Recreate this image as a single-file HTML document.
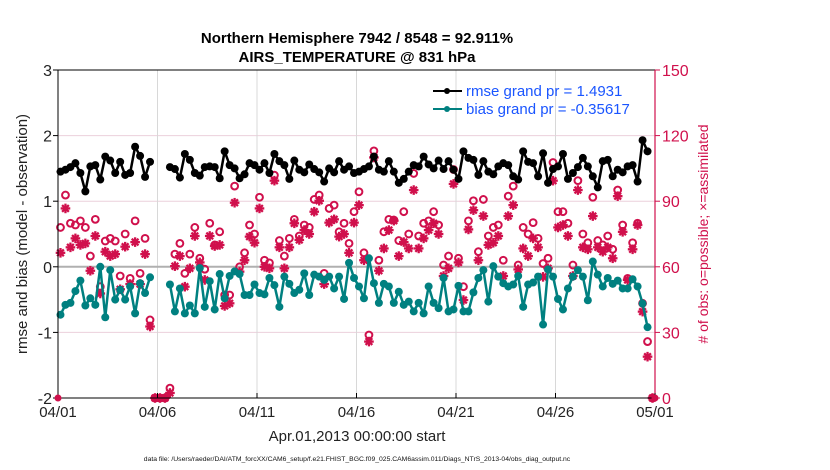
<!DOCTYPE html>
<html><head><meta charset="utf-8"><style>
html,body{margin:0;padding:0;background:#fff}
svg{display:block;font-family:"Liberation Sans",Arial,sans-serif}
</style></head><body>
<svg id="chart" width="830" height="470" viewBox="0 0 830 470" xmlns="http://www.w3.org/2000/svg">
<rect width="830" height="470" fill="#fff"/>
<text x="357" y="43" text-anchor="middle" font-size="15" font-weight="bold">Northern Hemisphere 7942 / 8548 = 92.911%</text>
<text x="357" y="62" text-anchor="middle" font-size="15" font-weight="bold">AIRS_TEMPERATURE @ 831 hPa</text>
<g id="grid"></g>
<g id="marks"></g>
<g id="axes"></g>
<text transform="translate(27,234) rotate(-90)" text-anchor="middle" font-size="15" fill="#222">rmse and bias (model - observation)</text>
<text transform="translate(708,234) rotate(-90)" text-anchor="middle" font-size="14" fill="#d0104c"># of obs: o=possible; ×=assimilated</text>
<text x="357" y="441" text-anchor="middle" font-size="15" fill="#222">Apr.01,2013 00:00:00 start</text>
<text x="357" y="461" text-anchor="middle" font-size="6.8" fill="#111">data file: /Users/raeder/DAI/ATM_forcXX/CAM6_setup/f.e21.FHIST_BGC.f09_025.CAM6assim.011/Diags_NTrS_2013-04/obs_diag_output.nc</text>
<g>
<line x1="433" y1="91" x2="462" y2="91" stroke="#000" stroke-width="2"/><circle cx="447" cy="91" r="3" fill="#000"/>
<text x="466" y="96" font-size="15" fill="#1a55ff">rmse grand pr = 1.4931</text>
<line x1="433" y1="109" x2="462" y2="109" stroke="#008080" stroke-width="2"/><circle cx="447" cy="109" r="3" fill="#008080"/>
<text x="466" y="114" font-size="15" fill="#1a55ff">bias grand pr = -0.35617</text>
</g>
</svg>
<script>
const rmse = [1.45,1.48,1.52,1.58,1.43,1.15,1.53,1.55,1.33,1.68,1.62,1.43,1.60,1.40,1.43,1.83,1.69,1.37,1.60,null,null,null,
1.52,1.49,1.36,1.72,1.63,1.43,1.39,1.52,1.53,1.52,1.35,1.76,1.55,1.50,1.35,1.41,
1.58,1.55,1.48,1.58,1.43,1.72,1.61,1.55,1.34,1.62,1.48,1.44,1.56,1.49,1.44,1.30,1.50,1.44,1.61,1.48,1.53,1.43,1.45,1.49,1.53,1.68,1.48,1.45,1.61,1.45,1.28,1.34,1.45,1.55,1.53,1.68,1.56,1.50,1.62,1.49,1.61,1.48,
1.34,1.76,1.66,1.63,1.40,1.61,1.45,1.41,1.53,1.58,1.55,1.38,1.33,1.76,1.60,1.58,1.38,1.73,1.28,1.49,1.53,1.72,1.34,1.43,1.52,1.66,1.53,1.38,1.21,1.61,1.63,1.38,1.48,1.44,1.53,1.55,1.30,1.93,1.76,null];
const bias = [-0.73,-0.58,-0.55,-0.37,-0.21,-0.59,-0.48,-0.58,0.00,-0.77,-0.05,-0.50,-0.35,-0.50,-0.30,-0.71,-0.25,-0.40,-0.16,null,null,null,
-0.27,-0.68,-0.33,-0.71,-0.59,-0.71,-0.02,-0.61,-0.22,-0.65,-0.11,-0.48,-0.14,-0.07,-0.11,-0.43,
-0.43,-0.27,-0.40,-0.42,-0.17,-0.28,-0.61,-0.15,-0.26,-0.40,-0.35,-0.10,-0.43,-0.12,-0.15,-0.20,-0.15,-0.33,-0.15,-0.49,0.06,-0.17,-0.30,-0.48,0.13,-0.25,-0.55,-0.26,-0.30,-0.55,-0.38,-0.58,-0.53,-0.68,-0.55,-0.71,-0.30,-0.55,-0.63,-0.17,-0.68,-0.65,
-0.29,-0.68,-0.68,-0.39,-0.17,-0.05,-0.53,0.01,-0.15,-0.25,-0.30,-0.27,-0.14,-0.61,-0.27,-0.24,-0.15,-0.88,-0.04,-0.15,-0.49,-0.65,-0.33,-0.15,-0.05,-0.15,-0.51,0.08,-0.12,-0.30,-0.17,-0.26,-0.21,-0.33,-0.33,-0.19,-0.30,-0.56,-0.92,null];
const nPossible = [78,92.8,79.9,79.1,81,78,64.9,81.7,50.9,71.8,73,71.8,55.8,75,54.7,81,57,73,35.7,0,0,0,
4.5,65.8,70.7,57,65.8,78,63.9,58.9,79.9,70,76,47.1,47.1,96.9,60,66.4,
79.1,75,91.8,63,61.8,101.9,72,64.9,73,81.7,74.1,79.1,78,90.8,92.8,57,86.7,88.2,76,79.9,70.7,85.2,94.3,66.4,28.8,113,63,76,81.7,81.4,72,85.2,75,102.7,74.1,79.9,81,85.2,79.1,60.8,64.9,104.5,
63.9,50.9,81,90.2,66.9,90.8,74.1,78,79.1,63,92.3,96.9,60.8,78,75,80.2,73,61.5,63.9,107.7,85.2,85.2,79.9,60.8,99.4,75,71,91.8,72,70,74.1,68,95.1,79.1,54.7,71,79.9,43.3,25.8,0];
const nAssim = [66.4,86.7,68.9,73,70,70.7,58.2,74.1,47.8,66.9,64.9,65.8,49.7,69.2,52.1,71.3,52.1,65.8,32.7,0,0,0,
2.3,60.3,64.9,50.9,59.3,74.1,62,54,74.1,69.5,70,42.1,43.3,89.3,57.8,63,
73.8,71,86.7,60,59.3,99.4,68.9,59.3,68.9,79.9,72.3,76.8,75,85.2,90.2,52.1,80.2,81.7,73.8,75,66.4,80.2,88.2,63,25.8,110,58.2,68.4,76.8,81.1,64.9,71.3,68.4,95.1,68.4,73,76.8,79.9,75,55.8,59.3,97.9,
62,44.8,77.1,85.9,63,83.2,70,71,74.1,55.8,83.2,88.2,58.8,68.4,64.9,73,68.9,55.4,59.3,99.4,78,79.1,74.1,55.8,95.1,68.9,68,83.2,68.9,66.9,68.9,63.9,92.3,76,54,68,79.1,39.5,18.9,0];
const leftTicks = [3,2,1,0,-1,-2];
const rightTicks = [150,120,90,60,30,0];
const dayTicks = [0,5,10,15,20,25,30];
const dayLabels = ["04/01","04/06","04/11","04/16","04/21","04/26","05/01"];

const NS="http://www.w3.org/2000/svg";
const X0=58,X1=655,Y0=70,Y1=398;
const xDay=d=>X0+(X1-X0)*d/30;
const xIdx=i=>xDay((i+0.5)/4);
const yL=v=>Y1-(v+2)/5*(Y1-Y0);
const yR=n=>Y1-n/150*(Y1-Y0);
function mk(tag,attrs,parent){const e=document.createElementNS(NS,tag);for(const k in attrs)e.setAttribute(k,attrs[k]);parent.appendChild(e);return e;}
const grid=document.getElementById('grid'),marks=document.getElementById('marks'),axes=document.getElementById('axes');
const CR="#d0104c";
rightTicks.forEach(n=>{if(n>0&&n<150){const l=mk('line',{x1:X0,x2:X1,y1:yR(n),y2:yR(n),stroke:'#ecd0dc','stroke-width':1},grid);

}});
dayTicks.forEach(d=>{if(d>0&&d<30){const l=mk('line',{x1:xDay(d),x2:xDay(d),y1:Y0,y2:Y1,stroke:'#d8d8d8','stroke-width':1},grid);

}});
const zl=mk('line',{x1:X0,x2:X1,y1:yL(0),y2:yL(0),stroke:'#b0b0b0','stroke-width':2},grid);


function star(cx,cy,col){const g=mk('g',{stroke:col,'stroke-width':2.3},marks);


const r=4.8;mk('line',{x1:cx-r,x2:cx+r,y1:cy,y2:cy},g);mk('line',{x1:cx,x2:cx,y1:cy-r,y2:cy+r},g);
const q=r*0.7;mk('line',{x1:cx-q,x2:cx+q,y1:cy-q,y2:cy+q},g);mk('line',{x1:cx-q,x2:cx+q,y1:cy+q,y2:cy-q},g);}
nPossible.forEach((n,i)=>{const c=mk('circle',{cx:xIdx(i),cy:yR(n),r:3.4,fill:'none',stroke:CR,'stroke-width':2},marks);

});
nAssim.forEach((n,i)=>star(xIdx(i),yR(n),CR));
function series(vals,col,name){let seg=[];const segs=[];vals.forEach((v,i)=>{if(v===null){if(seg.length)segs.push(seg);seg=[];}else seg.push([xIdx(i),yL(v)]);});if(seg.length)segs.push(seg);
segs.forEach(s=>{const p=mk('polyline',{points:s.map(p=>p.join(',')).join(' '),fill:'none',stroke:col,'stroke-width':2.5,'stroke-linejoin':'round'},marks);


s.forEach(pt=>{const c=mk('circle',{cx:pt[0],cy:pt[1],r:4,fill:col},marks);

});});}
series(bias,'#008080','bias');
series(rmse,'#000','rmse');
const ax=[['line',{x1:X0,x2:X1,y1:Y0,y2:Y0,stroke:'#000','stroke-width':1}],['line',{x1:X0,x2:X1,y1:Y1,y2:Y1,stroke:'#000','stroke-width':1}],['line',{x1:X0,x2:X0,y1:Y0,y2:Y1,stroke:'#000','stroke-width':1}],['line',{x1:X1,x2:X1,y1:Y0,y2:Y1,stroke:CR,'stroke-width':1.2}]];
ax.forEach(a=>{const e=mk(a[0],a[1],axes);

});
leftTicks.forEach(v=>{mk('line',{x1:X0-5,x2:X0,y1:yL(v),y2:yL(v),stroke:'#000'},axes);
const t=mk('text',{x:X0-6,y:yL(v)+6,'text-anchor':'end','font-size':16,fill:'#222'},axes);t.textContent=v;

});
rightTicks.forEach(n=>{mk('line',{x1:X1,x2:X1+5,y1:yR(n),y2:yR(n),stroke:CR},axes);
const t=mk('text',{x:X1+7,y:yR(n)+6,'font-size':16,fill:CR},axes);t.textContent=n;

});
dayTicks.forEach((d,k)=>{mk('line',{x1:xDay(d),x2:xDay(d),y1:Y1,y2:Y1-5,stroke:'#000'},axes);
const t=mk('text',{x:xDay(d),y:417,'text-anchor':'middle','font-size':15,fill:'#222'},axes);t.textContent=dayLabels[k];

});
[X0,X1].forEach(x=>{mk('circle',{cx:x,cy:Y1,r:3.5,fill:CR},axes);});
</script>
</body></html>
